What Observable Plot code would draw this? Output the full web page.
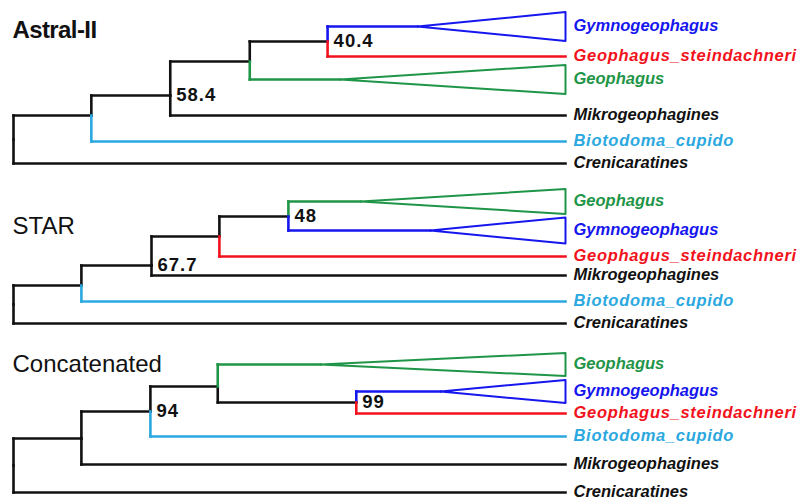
<!DOCTYPE html>
<html><head><meta charset="utf-8">
<script src="https://cdn.jsdelivr.net/npm/d3@7"></script>
<script src="https://cdn.jsdelivr.net/npm/@observablehq/plot@0.6"></script>
<style>body{margin:0;background:#fff}</style>
</head><body><div id="chart"></div>
<script>
// ---- trees (panels) ----
const treeNames   = ["Astral-II", "STAR", "Concatenated"];
const treeWeights = ["bold", "normal", "normal"];
const treeTitleY  = [30, 226, 364];

// ---- taxa and their colours ----
const taxa       = ["Gymnogeophagus", "Geophagus_steindachneri", "Geophagus", "Mikrogeophagines", "Biotodoma_cupido", "Crenicaratines"];
const taxaColors = ["#1616ee", "#f2121c", "#1f9548", "#111111", "#2ba8e0", "#111111"];

// ---- internal nodes (depth as % of tree length, vertical position in row units) ----
const nodeId      = ["a0", "a1", "a2", "a3", "a4",   "s0", "s1", "s2", "s3", "s4",   "c0", "c1", "c2", "c3", "c4"];
const nodeParent  = [null, "a0", "a1", "a2", "a3",   null, "s0", "s1", "s2", "s3",   null, "c0", "c1", "c2", "c3"];
const nodeDepth   = [0, 14.1, 28.4, 42.8, 56.9,      0, 12.3, 25.0, 37.3, 49.8,      0, 12.3, 24.8, 37.0, 62.1];
const nodeY       = [139, 115, 95, 61, 41,           304, 285, 265, 236, 216,        465, 438, 411, 386, 402];
const nodeSupport = ["", "", "58.4", "", "40.4",     "", "", "67.7", "", "48",       "", "", "94", "", "99"];

// ---- tips ----
const tipName   = ["Gymnogeophagus", "Geophagus_steindachneri", "Geophagus", "Mikrogeophagines", "Biotodoma_cupido", "Crenicaratines",
                   "Geophagus", "Gymnogeophagus", "Geophagus_steindachneri", "Mikrogeophagines", "Biotodoma_cupido", "Crenicaratines",
                   "Geophagus", "Gymnogeophagus", "Geophagus_steindachneri", "Biotodoma_cupido", "Mikrogeophagines", "Crenicaratines"];
const tipParent = ["a4", "a4", "a3", "a2", "a1", "a0",
                   "s4", "s4", "s3", "s2", "s1", "s0",
                   "c3", "c4", "c4", "c2", "c1", "c0"];
const tipY      = [26, 56, 79, 115, 141, 163,
                   201, 230, 256, 275, 301, 323,
                   364, 391, 413, 436, 464, 492];
// collapsed clades: depth where the triangle starts and its half height (null = single lineage)
const tipApex   = [73.2, null, 59.2, null, null, null,
                   62.9, 75.5, null, null, null, null,
                   55.6, 77.4, null, null, null, null];
const tipHalf   = [14.5, 0, 14.5, 0, 0, 0,
                   12.5, 13, 0, 0, 0, 0,
                   11.5, 11.5, 0, 0, 0, 0];
const tipDepth = 100;

// ---- build tables ----
const color = name => taxaColors[taxa.indexOf(name)];
const nodes = nodeId.map((id, i) => ({id, parent: nodeParent[i], depth: nodeDepth[i], y: nodeY[i], support: nodeSupport[i]}));
const byId = new Map(nodes.map(n => [n.id, n]));

const segs = [];
nodes.filter(n => n.parent).forEach(n => {
  const p = byId.get(n.parent);
  segs.push({x1: p.depth, x2: p.depth, y1: p.y, y2: n.y, c: "#111111"});
  segs.push({x1: p.depth, x2: n.depth, y1: n.y, y2: n.y, c: "#111111"});
});
const tips = tipName.map((name, i) => ({name, parent: tipParent[i], y: tipY[i], apex: tipApex[i], half: tipHalf[i], c: color(name)}));
const triangles = [];
tips.forEach((t, i) => {
  const p = byId.get(t.parent);
  segs.push({x1: p.depth, x2: p.depth, y1: p.y, y2: t.y, c: t.c});
  segs.push({x1: p.depth, x2: t.apex ?? tipDepth, y1: t.y, y2: t.y, c: t.c});
  if (t.apex != null) {
    triangles.push({k: i, x: t.apex, y: t.y, c: t.c});
    triangles.push({k: i, x: tipDepth, y: t.y - t.half, c: t.c});
    triangles.push({k: i, x: tipDepth, y: t.y + t.half, c: t.c});
    triangles.push({k: i, x: t.apex, y: t.y, c: t.c});
  }
});
const titles = treeNames.map((name, i) => ({name, y: treeTitleY[i], w: treeWeights[i]}));
const supports = nodes.filter(n => n.support);

const font = "Liberation Sans, Arial, Helvetica, sans-serif";
const titleOpts = {x: 0, y: "y", text: "name", dx: -1, textAnchor: "start", lineAnchor: "middle", fontSize: 24, fill: "#111", fontFamily: font};
const chart = Plot.plot({
  width: 806, height: 499, margin: 0,
  x: {domain: [0, 100], range: [13, 565], axis: null},
  y: {domain: [0, 499], range: [0, 499], axis: null},
  style: {fontFamily: font, background: "#fff"},
  marks: [
    Plot.line(triangles, {x: "x", y: "y", z: "k", stroke: "c", strokeWidth: 2, curve: "linear"}),
    Plot.link(segs.filter(s => s.c === "#111111"), {x1: "x1", x2: "x2", y1: "y1", y2: "y2", stroke: "c", strokeWidth: 2.6, strokeLinecap: "square"}),
    Plot.link(segs.filter(s => s.c !== "#111111"), {x1: "x1", x2: "x2", y1: "y1", y2: "y2", stroke: "c", strokeWidth: 2.6, strokeLinecap: "square"}),
    Plot.text(tips, {x: tipDepth, y: "y", text: "name", fill: "c", dx: 8, dy: -1, textAnchor: "start", lineAnchor: "middle",
      fontSize: 16.5, fontStyle: "italic", fontWeight: "bold", fontFamily: font}),
    Plot.text(supports, {x: "depth", y: "y", text: "support", dx: 6, textAnchor: "start", lineAnchor: "middle",
      fontSize: 18.5, fontWeight: "bold", fill: "#111", fontFamily: font}),
    Plot.text(titles.filter(d => d.w === "bold"), {...titleOpts, fontWeight: "bold"}),
    Plot.text(titles.filter(d => d.w !== "bold"), {...titleOpts, fontWeight: "normal"})
  ]
});
const allText = d3.select(chart).selectAll("text");
allText.filter(function() { return nodeSupport.includes(this.textContent) && this.textContent !== ""; }).attr("letter-spacing", 1);
allText.filter(function() { return this.textContent === "Astral-II"; }).attr("letter-spacing", -0.6);
allText.filter(function() { return this.textContent.includes("_"); }).attr("letter-spacing", 0.7);
document.getElementById("chart").appendChild(chart);
</script>
</body></html>
